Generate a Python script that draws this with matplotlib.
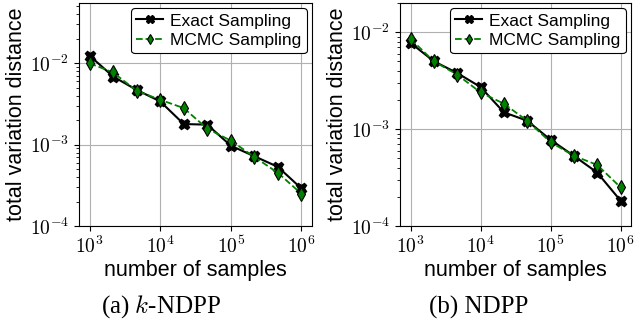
import matplotlib
matplotlib.use("Agg")
import matplotlib.pyplot as plt
from matplotlib.ticker import FuncFormatter, LogLocator
import numpy as np

plt.rcParams['mathtext.fontset'] = 'cm'
plt.rcParams['font.family'] = ['Liberation Sans', 'DejaVu Sans']

n_samples = [1000, 2154, 4642, 10000, 21544, 46416, 100000, 215443, 464159, 1000000]

kndpp_exact = [0.0124, 0.00687, 0.0047, 0.0034, 0.00179, 0.00176, 0.00097, 0.00072, 0.000533, 0.000289]
kndpp_mcmc = [0.0100, 0.0077, 0.00459, 0.00356, 0.00281, 0.00157, 0.00112, 0.000706, 0.00045, 0.000249]

ndpp_exact = [0.00776, 0.00501, 0.00379, 0.00272, 0.00149, 0.00122, 0.000776, 0.00053, 0.000356, 0.000183]
ndpp_mcmc = [0.00853, 0.0050, 0.00365, 0.00239, 0.00183, 0.00122, 0.000734, 0.00053, 0.000427, 0.000251]

captions = ["(a) $k$-NDPP", "(b) NDPP"]
series_labels = ["Exact Sampling", "MCMC Sampling"]


def pow10(v, pos):
    e = int(round(np.log10(v)))
    return r'$10^{%d}$' % e


fig = plt.figure(figsize=(6.38, 3.29), dpi=100)
axes = [fig.add_axes([79/638, 103/329, 233/638, 223/329]),
        fig.add_axes([400/638, 103/329, 231/638, 223/329])]
ylims = [(1e-4, 0.055), (1e-4, 0.02)]
data = [(kndpp_exact, kndpp_mcmc), (ndpp_exact, ndpp_mcmc)]
cap_x = [0.252, 0.750]

for ax, (ex, mc), yl, cap, cx in zip(axes, data, ylims, captions, cap_x):
    ax.plot(n_samples, ex, color='black', linestyle='-', marker='X', markersize=7.5,
            markeredgecolor='black', markerfacecolor='black', linewidth=1.5, label=series_labels[0], zorder=3)
    ax.plot(n_samples, mc, color='green', linestyle='--', marker='d', markersize=7,
            markeredgecolor='black', markerfacecolor='green', markeredgewidth=0.8, linewidth=1.3,
            label=series_labels[1], zorder=4)
    ax.set_xscale('log')
    ax.set_yscale('log')
    ax.set_ylim(*yl)
    ax.xaxis.set_major_locator(LogLocator(base=10, numticks=15))
    ax.yaxis.set_major_locator(LogLocator(base=10, numticks=15))
    ax.xaxis.set_major_formatter(FuncFormatter(pow10))
    ax.yaxis.set_major_formatter(FuncFormatter(pow10))
    ax.grid(True, which='major', color='#b0b0b0', linewidth=0.8)
    ax.set_axisbelow(True)
    ax.set_xlabel('number of samples', fontsize=15.5, labelpad=2)
    ax.set_ylabel('total variation distance', fontsize=15.5, labelpad=2)
    ax.tick_params(axis='both', which='major', labelsize=14)
    ax.tick_params(axis='x', which='minor', bottom=False)
    leg = ax.legend(loc='upper right', fontsize=12.5, framealpha=1, edgecolor='black',
                    handlelength=1.55, borderpad=0.3, labelspacing=0.25, handletextpad=0.4,
                    borderaxespad=0.3, markerscale=0.8)
    leg.get_frame().set_linewidth(0.8)
    fig.text(cx, 1 - 307/329, cap, ha='center', va='center',
             fontsize=18, family='Liberation Serif')

fig.savefig('out.png', dpi=100)
